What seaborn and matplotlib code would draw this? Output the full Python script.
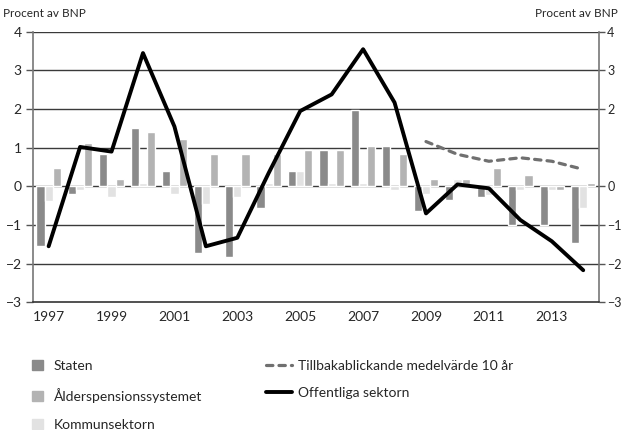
import numpy as np
import pandas as pd
import matplotlib
matplotlib.use("Agg")
import matplotlib.pyplot as plt
import seaborn as sns
from matplotlib.patches import Patch
from matplotlib.lines import Line2D

# Data (procent av BNP)
years = list(range(1997, 2015))
staten = [-1.55, -0.2, 0.85, 1.5, 0.4, -1.73, -1.83, -0.55, 0.4, 0.95,
          1.97, 1.05, -0.65, -0.35, -0.27, -1.0, -1.0, -1.47]
kommun = [-0.38, -0.1, -0.27, 0.1, -0.2, -0.45, -0.27, 0.1, 0.4, 0.1,
          0.1, -0.1, -0.2, 0.2, -0.22, -0.1, -0.1, -0.55]
alder = [0.48, 1.13, 0.2, 1.42, 1.23, 0.85, 0.85, 0.85, 0.95, 0.95,
         1.05, 0.85, 0.2, 0.2, 0.47, 0.3, -0.1, 0.1]
offentliga = [-1.55, 1.02, 0.9, 3.45, 1.55, -1.55, -1.33, 0.35, 1.95, 2.38,
              3.55, 2.17, -0.7, 0.05, -0.05, -0.87, -1.42, -2.17]
medel_years = list(range(2009, 2015))
medel = [1.16, 0.83, 0.65, 0.74, 0.65, 0.44]

serier = ["Staten", "Kommunsektorn", "Ålderspensionssystemet"]
farger = {"Staten": "#8a8a8a", "Kommunsektorn": "#e2e2e2",
          "Ålderspensionssystemet": "#b3b3b3"}

df = pd.DataFrame({"år": years * 3,
                   "serie": ["Staten"] * 18 + ["Kommunsektorn"] * 18 + ["Ålderspensionssystemet"] * 18,
                   "värde": staten + kommun + alder})

sns.set_style("white")
plt.rcParams["font.family"] = ["Lato", "DejaVu Sans"]

fig = plt.figure(figsize=(6.21, 4.30), dpi=100)
ax = fig.add_axes([0.053, 0.297, 0.9115, 0.629])

for y in range(-2, 5):
    ax.axhline(y, color="#3a3a3a", linewidth=1.0, zorder=0)

sns.barplot(data=df, x="år", y="värde", hue="serie", hue_order=serier,
            palette=farger, width=0.78, saturation=1, legend=False, ax=ax, zorder=2)

idx = np.arange(len(years))
sns.lineplot(x=idx, y=offentliga, color="black", linewidth=2.8, ax=ax, zorder=4)
medel_idx = [years.index(y) for y in medel_years]
ax.plot(medel_idx, medel, color="#707070", linewidth=2.3, linestyle=(0, (2.0, 1.9)),
        dash_capstyle="round", zorder=4)

ax.set_xlim(-0.5, len(years) - 0.5)
ax.set_ylim(-3, 4)
ax.set_xlabel("")
ax.set_ylabel("")

# x-axel: etiketter på udda år, streck mellan åren
lab_idx = [i for i, y in enumerate(years) if y % 2 == 1]
ax.set_xticks(lab_idx)
ax.set_xticklabels([str(years[i]) for i in lab_idx], fontsize=10)
ax.set_xticks(np.arange(-0.5, len(years), 1), minor=True)
ax.tick_params(axis="x", which="major", length=0, pad=6)
ax.tick_params(axis="x", which="minor", length=5, width=1, color="#555555", direction="out")

ax.set_yticks(range(-3, 5))
ax.tick_params(axis="y", length=5, width=1, color="#555555", labelsize=10, pad=3)

ax.spines["top"].set_visible(False)
ax.spines["bottom"].set_color("#333333")
ax.spines["left"].set_color("#777777")
ax.spines["right"].set_color("#777777")
for s in ["bottom", "left", "right"]:
    ax.spines[s].set_linewidth(1.2)

ax2 = ax.twinx()
ax2.set_ylim(-3, 4)
ax2.set_yticks([-3, -2, -1, 0, 2, 3, 4])
ax2.tick_params(axis="y", length=4, width=1, color="#555555", labelsize=9, pad=2)
for s in ["top", "left", "bottom", "right"]:
    ax2.spines[s].set_visible(False)

fig.text(0.005, 0.968, "Procent av BNP", fontsize=8.5, ha="left", va="center")
fig.text(0.995, 0.968, "Procent av BNP", fontsize=8.5, ha="right", va="center")

# legend i två delar: rutor till vänster, linjer till höger
patch_handles = [Patch(color=farger["Staten"], label="Staten"),
                 Patch(color=farger["Ålderspensionssystemet"], label="Ålderspensionssystemet"),
                 Patch(color=farger["Kommunsektorn"], label="Kommunsektorn")]
line_handles = [Line2D([], [], color="#707070", linewidth=2.3, linestyle=(0, (2.0, 1.9)),
                       dash_capstyle="round", label="Tillbakablickande medelvärde 10 år"),
                Line2D([], [], color="black", linewidth=2.8, label="Offentliga sektorn")]

leg1 = fig.legend(handles=patch_handles, loc="upper left", bbox_to_anchor=(0.051, 0.163),
                  frameon=False, fontsize=10, handlelength=0.8, handleheight=0.72,
                  labelspacing=1.15, handletextpad=0.8, borderpad=0, borderaxespad=0)
leg2 = fig.legend(handles=line_handles, loc="upper left", bbox_to_anchor=(0.428, 0.163),
                  frameon=False, fontsize=10, handlelength=1.9,
                  labelspacing=1.1, handletextpad=0.45, borderpad=0, borderaxespad=0)

fig.savefig("out.png", dpi=100)
